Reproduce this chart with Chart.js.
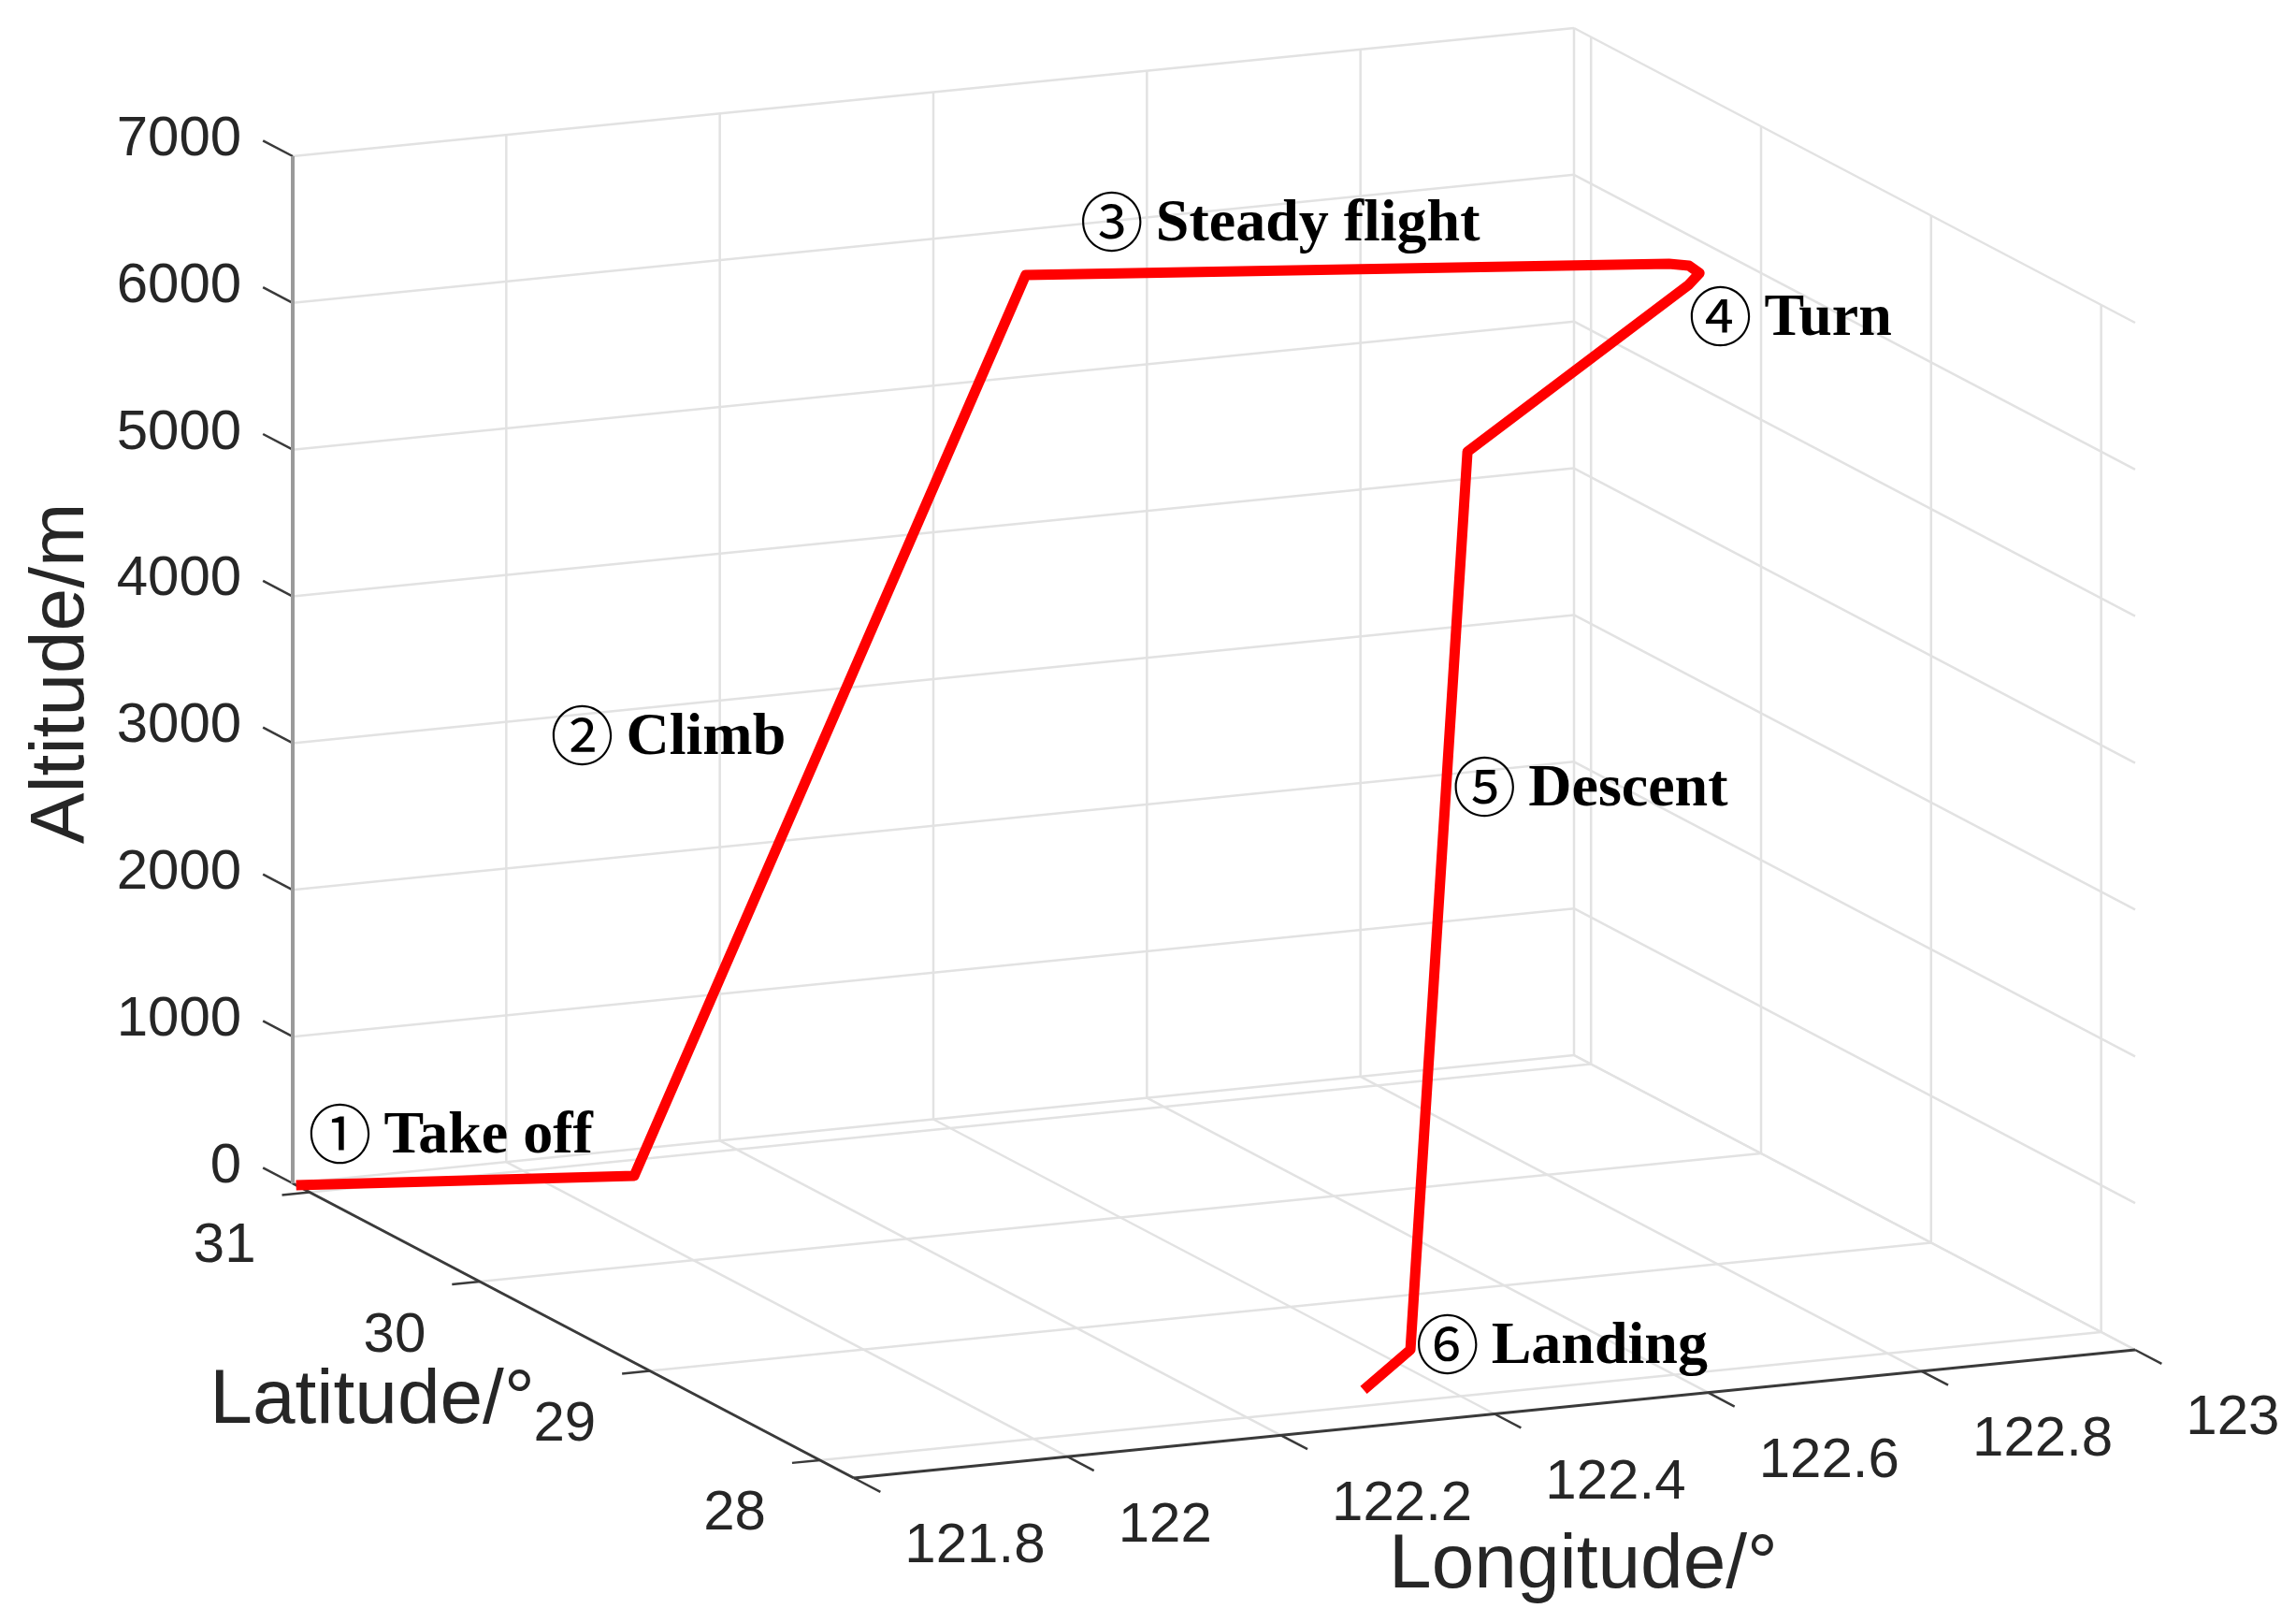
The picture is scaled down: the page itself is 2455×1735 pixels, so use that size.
<!DOCTYPE html>
<html>
<head>
<meta charset="utf-8">
<title>Flight trajectory</title>
<script src="https://cdn.jsdelivr.net/npm/chart.js@4.4.1/dist/chart.umd.min.js"></script>
<style>
  html, body { margin: 0; padding: 0; background: #fff; }
  canvas { display: block; }
</style>
</head>
<body>
<canvas id="chart" width="2455" height="1735"></canvas>
<script>
// axis limits and ticks
const lonLimits = [121.8, 123];
const latLimits = [27.8, 31.1];
const altLimits = [0, 7000];
const lonTicks = [121.8, 122, 122.2, 122.4, 122.6, 122.8, 123];
const latTicks = [28, 29, 30, 31];
const altTicks = [0, 1000, 2000, 3000, 4000, 5000, 6000, 7000];
const lonTickLabels = ["121.8", "122", "122.2", "122.4", "122.6", "122.8", "123"];
const latTickLabels = ["28", "29", "30", "31"];
const altTickLabels = ["0", "1000", "2000", "3000", "4000", "5000", "6000", "7000"];

// flight path
const pathLon = [121.80, 122.08, 122.403, 122.926, 122.939, 122.936, 122.909, 122.486, 122.430, 122.333];
const pathLat = [31.08, 30.85, 30.576, 30.077, 30.041, 29.960, 29.857, 28.499, 28.483, 28.149];
const pathAlt = [0, 0, 6070, 6070, 6070, 6070, 6070, 6070, 0, 0];

// flight phase labels
const phaseMarks = ["\u2460", "\u2461", "\u2462", "\u2463", "\u2464", "\u2465"];
const phaseNames = ["Take off", "Climb", "Steady flight", "Turn", "Descent", "Landing"];
const phaseLon = [121.817, 122.044, 122.540, 123.0, 122.889, 122.445];
const phaseLat = [31.1, 31.1, 31.1, 30.41, 31.1, 28.53];
const phaseAlt = [326, 2876, 6015, 5455, 1911, 0];

// where the box corners land on the canvas (orthographic view, like MATLAB view)
const box = {
    origin: [313, 1265],   // lonMin, latMax, altMin
    lonEnd: [1683, 1128],  // lonMax, latMax, altMin
    latEnd: [913, 1580],   // lonMin, latMin, altMin
    altTop: [313, 167]     // lonMin, latMax, altMax
};

function project(lon, lat, alt) {
    const u = (lon - lonLimits[0]) / (lonLimits[1] - lonLimits[0]);
    const v = (latLimits[1] - lat) / (latLimits[1] - latLimits[0]);
    const w = (alt - altLimits[0]) / (altLimits[1] - altLimits[0]);
    const o = box.origin;
    return {
        x: o[0] + u * (box.lonEnd[0] - o[0]) + v * (box.latEnd[0] - o[0]) + w * (box.altTop[0] - o[0]),
        y: o[1] + u * (box.lonEnd[1] - o[1]) + v * (box.latEnd[1] - o[1]) + w * (box.altTop[1] - o[1])
    };
}

function line(points, color, width, order) {
    return {
        data: points,
        showLine: true,
        borderColor: color,
        borderWidth: width,
        pointRadius: 0,
        pointHoverRadius: 0,
        fill: false,
        tension: 0,
        order: order
    };
}

const [lonMin, lonMax] = lonLimits;
const [latMin, latMax] = latLimits;
const [altMin, altMax] = altLimits;

const gridColor = "#e2e2e2";
const axisColor = "#3a3a3a";
const datasets = [];

// grid on floor, back wall (lat = max) and side wall (lon = max)
lonTicks.forEach(t => {
    datasets.push(line([project(t, latMax, altMin), project(t, latMin, altMin)], gridColor, 2.5, 3));
    datasets.push(line([project(t, latMax, altMin), project(t, latMax, altMax)], gridColor, 2.5, 3));
});
latTicks.forEach(t => {
    datasets.push(line([project(lonMin, t, altMin), project(lonMax, t, altMin)], gridColor, 2.5, 3));
    datasets.push(line([project(lonMax, t, altMin), project(lonMax, t, altMax)], gridColor, 2.5, 3));
});
altTicks.forEach(t => {
    datasets.push(line([project(lonMin, latMax, t), project(lonMax, latMax, t)], gridColor, 2.5, 3));
    datasets.push(line([project(lonMax, latMax, t), project(lonMax, latMin, t)], gridColor, 2.5, 3));
});

// axis lines
datasets.push(line([project(lonMin, latMax, altMin), project(lonMin, latMax, altMax)], "#9a9a9a", 4, 2));
datasets.push(line([project(lonMin, latMax, altMin), project(lonMin, latMin, altMin)], axisColor, 3, 2));
datasets.push(line([project(lonMin, latMin, altMin), project(lonMax, latMin, altMin)], axisColor, 3, 2));

// tick marks
const altTickLen = 0.175, latTickLen = 0.026, lonTickLen = 0.156;
altTicks.forEach(t => datasets.push(line([project(lonMin, latMax, t), project(lonMin, latMax + altTickLen, t)], axisColor, 2.5, 2)));
latTicks.forEach(t => datasets.push(line([project(lonMin, t, altMin), project(lonMin - latTickLen, t, altMin)], axisColor, 2.5, 2)));
lonTicks.forEach(t => datasets.push(line([project(t, latMin, altMin), project(t, latMin - lonTickLen, altMin)], axisColor, 2.5, 2)));

// flight path
const pathPoints = pathLon.map((lon, i) => project(lon, pathLat[i], pathAlt[i]));
const pathSet = line(pathPoints, "#ff0000", 11, 1);
pathSet.borderJoinStyle = "round";
datasets.push(pathSet);

const textPlugin = {
    id: "labels3d",
    afterDatasetsDraw(chart) {
        const ctx = chart.ctx;
        const sx = chart.scales.x, sy = chart.scales.y;
        const px = p => ({ x: sx.getPixelForValue(p.x), y: sy.getPixelForValue(p.y) });
        ctx.save();
        ctx.fillStyle = "#262626";
        ctx.font = "60px 'Liberation Sans', Arial, sans-serif";

        // altitude tick labels
        ctx.textAlign = "right";
        ctx.textBaseline = "middle";
        altTicks.forEach((t, i) => {
            const p = px(project(lonMin, latMax + altTickLen, t));
            ctx.fillText(altTickLabels[i], p.x - 23, p.y - 1);
        });
        // latitude tick labels
        latTicks.forEach((t, i) => {
            const p = px(project(lonMin - latTickLen, t, altMin));
            ctx.fillText(latTickLabels[i], p.x - 28, p.y + 55);
        });
        // longitude tick labels
        ctx.textAlign = "left";
        lonTicks.forEach((t, i) => {
            const p = px(project(t, latMin - lonTickLen, altMin));
            ctx.fillText(lonTickLabels[i], p.x + 26, p.y + 59);
        });

        // axis titles
        ctx.font = "82px 'Liberation Sans', Arial, sans-serif";
        ctx.textBaseline = "alphabetic";
        ctx.textAlign = "center";
        const latMid = px(project(lonMin, (latMin + latMax) / 2, altMin));
        ctx.fillText("Latitude/\u00b0", latMid.x - 215, latMid.y + 98);
        const lonMid = px(project((lonMin + lonMax) / 2, latMin, altMin));
        ctx.fillText("Longitude/\u00b0", lonMid.x + 95, lonMid.y + 185);
        const altMid = px(project(lonMin, latMax, (altMin + altMax) / 2));
        ctx.save();
        ctx.translate(altMid.x - 224, altMid.y + 4);
        ctx.rotate(-Math.PI / 2);
        ctx.fillText("Altitude/m", 0, 0);
        ctx.restore();

        // flight phase labels
        ctx.fillStyle = "#000";
        phaseNames.forEach((name, i) => {
            const p = px(project(phaseLon[i], phaseLat[i], phaseAlt[i]));
            ctx.font = "68px 'Noto Sans CJK SC', 'DejaVu Sans', sans-serif";
            ctx.textAlign = "center";
            ctx.textBaseline = "middle";
            ctx.fillText(phaseMarks[i], p.x + 31, p.y);
            ctx.font = "bold 64px 'Liberation Serif', 'Times New Roman', serif";
            ctx.textAlign = "left";
            ctx.textBaseline = "alphabetic";
            ctx.fillText(name, p.x + 78, p.y + 20);
        });
        ctx.restore();
    }
};

new Chart(document.getElementById("chart"), {
    type: "scatter",
    data: { datasets: datasets },
    options: {
        responsive: false,
        animation: false,
        devicePixelRatio: 1,
        layout: { padding: 0 },
        plugins: {
            legend: { display: false },
            tooltip: { enabled: false }
        },
        scales: {
            x: { type: "linear", min: 0, max: 2455, display: false },
            y: { type: "linear", min: 0, max: 1735, reverse: true, display: false }
        }
    },
    plugins: [textPlugin]
});
</script>
</body>
</html>
